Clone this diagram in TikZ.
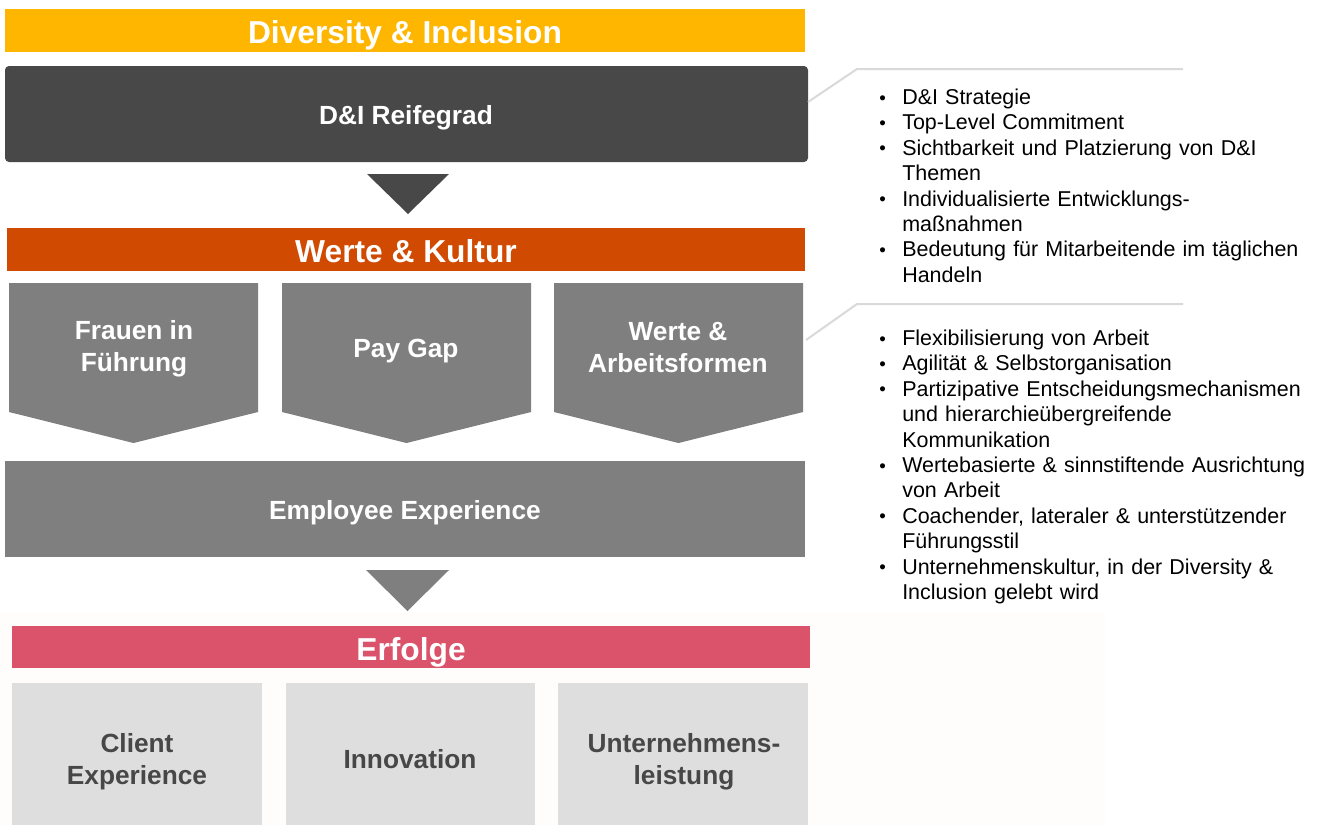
\documentclass[tikz,border=0pt]{standalone}
\usepackage{fontspec}
\setmainfont{Liberation Sans}
\definecolor{cYellow}{HTML}{FFB600}
\definecolor{cDark}{HTML}{484848}
\definecolor{cOrange}{HTML}{D04A02}
\definecolor{cGray}{HTML}{7F7F7F}
\definecolor{cPink}{HTML}{DB536A}
\definecolor{cLight}{HTML}{DEDEDE}
\definecolor{cLine}{HTML}{D9D9D9}
\definecolor{cBg}{HTML}{FEFDFB}
\definecolor{cText}{HTML}{474747}
\newcommand{\bul}{\makebox[17.25pt][l]{\raisebox{0.3pt}{\fontsize{14}{14}\selectfont •}}}
\newcommand{\ind}{\hspace*{17.25pt}}
\tikzset{
  title/.style={text=white, font=\bfseries\fontsize{23.8}{28}\selectfont, inner sep=0pt},
  lbl/.style={text=white, font=\bfseries\fontsize{19.7}{24}\selectfont, align=center, inner sep=0pt},
  dlbl/.style={text=cText, font=\bfseries\fontsize{19.7}{24}\selectfont, align=center, inner sep=0pt},
  blist/.style={anchor=base west, inner sep=0pt, text width=340pt, align=left, font=\fontsize{16.1}{19.05}\selectfont},
  callout/.style={draw=cLine, line width=1.5pt}
}
\begin{document}
\begin{tikzpicture}[x=0.75pt,y=-0.75pt]
\useasboundingbox (0,0) rectangle (1317,825);
\fill[white] (0,0) rectangle (1317,825);
\fill[cBg] (0,612) rectangle (1105,825);
% top bar
\fill[cYellow] (5,9) rectangle (805,52);
\node[title] (tDI) at (405,35) {Diversity \& Inclusion};
% dark box
\fill[cDark, rounded corners=3pt] (5,66) rectangle (808,162);
\node[lbl] (tReife) at (406,118) {D\&I Reifegrad};
% triangle 1
\fill[cDark] (367,174) -- (449,174) -- (408,214) -- cycle;
% orange bar
\fill[cOrange] (7,228) rectangle (805,271);
\node[title] (tWK) at (406,251) {Werte \& Kultur};
% pentagons
\fill[cGray] (9,283) -- (258,283) -- (258,412) -- (133.5,443) -- (9,412) -- cycle;
\fill[cGray] (282,283) -- (531,283) -- (531,412) -- (406.5,443) -- (282,412) -- cycle;
\fill[cGray] (554,283) -- (803,283) -- (803,412) -- (678.5,443) -- (554,412) -- cycle;
\node[lbl] (tFrauen) at (134,349) {Frauen in\\Führung};
\node[lbl] (tPay) at (406,351) {Pay Gap};
\node[lbl] (tWerte) at (678,348) {Werte \&\\Arbeitsformen};
% employee experience
\fill[cGray] (5,461) rectangle (805,557);
\node[lbl] (tEmp) at (405,513) {Employee Experience};
% triangle 2
\fill[cGray] (366,570) -- (449,570) -- (407.5,611) -- cycle;
% pink bar
\fill[cPink] (12,626) rectangle (810,668);
\node[title] (tErf) at (411,652) {Erfolge};
% bottom boxes
\fill[cLight] (12,683) rectangle (262,825);
\fill[cLight] (286,683) rectangle (535,825);
\fill[cLight] (558,683) rectangle (808,825);
\node[dlbl] (tClient) at (137,762) {Client\\Experience};
\node[dlbl] (tInno) at (410,759) {Innovation};
\node[dlbl] (tUnt) at (684,762) {Unternehmens-\\leistung};
% callouts
\coordinate (a1) at (808,102);
\coordinate (a2) at (857,69);
\coordinate (a3) at (1183,69);
\draw[callout] (a1) -- (a2) -- (a3);
\coordinate (b1) at (806,340);
\coordinate (b2) at (857,304);
\coordinate (b3) at (1183,304);
\draw[callout] (b1) -- (b2) -- (b3);
% bullet lists
\node[blist] (list1) at (879,104.5) {%
\bul D\&I Strategie\\
\bul Top-Level Commitment\\
\bul Sichtbarkeit und Platzierung von D\&I\\
\ind Themen\\
\bul Individualisierte Entwicklungs-\\
\ind maßnahmen\\
\bul Bedeutung für Mitarbeitende im täglichen\\
\ind Handeln};
\node[blist] (list2) at (879,345.5) {%
\bul Flexibilisierung von Arbeit\\
\bul Agilität \& Selbstorganisation\\
\bul Partizipative Entscheidungsmechanismen\\
\ind und hierarchieübergreifende\\
\ind Kommunikation\\
\bul Wertebasierte \& sinnstiftende Ausrichtung\\
\ind von Arbeit\\
\bul Coachender, lateraler \& unterstützender\\
\ind Führungsstil\\
\bul Unternehmenskultur, in der Diversity \&\\
\ind Inclusion gelebt wird};
\end{tikzpicture}
\end{document}
